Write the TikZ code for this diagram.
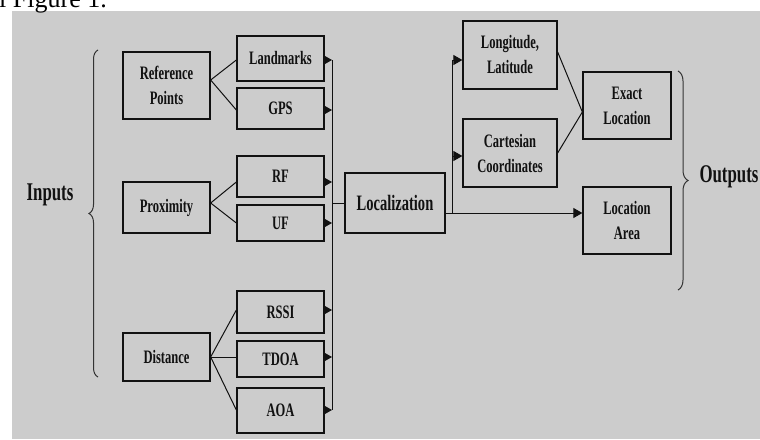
\documentclass[tikz,border=0pt]{standalone}
\usepackage{fontspec}
\usetikzlibrary{arrows.meta,decorations.pathreplacing}
\newfontfamily\bfnt{Liberation Serif Bold}[FakeStretch=0.66]
\newfontfamily\capfnt{Liberation Serif}
\definecolor{bg}{HTML}{CCCCCC}
\definecolor{ink}{HTML}{111111}
\tikzset{
  box/.style={draw=ink, line width=1.3pt, inner sep=0pt, align=center, text=ink,
    font=\bfnt\fontsize{19}{25}\selectfont},
  conn/.style={draw=ink, line width=1pt},
  arr/.style={conn, -{Triangle[length=9pt,width=10pt]}},
  brc/.style={draw=black!80, line width=1pt, decorate},
  big/.style={text=ink, inner sep=0pt, font=\bfnt\fontsize{25.5}{26}\selectfont}
}
\begin{document}
\begin{tikzpicture}[x=1pt,y=-1pt]
\useasboundingbox (0,0) rectangle (760,439);
\clip (0,0) rectangle (760,439);
\fill[white] (0,0) rectangle (760,439);
\fill[bg] (12,11) rectangle (760,439);
\node[anchor=base west, inner sep=0pt, font=\capfnt\fontsize{26}{26}\selectfont] (cap) at (-1,8) {l Figure 1.};

% left column
\node[box, minimum width=87pt, minimum height=67pt] (refp) at (166.5,85.5) {Reference\\Points};
\node[box, minimum width=87pt, minimum height=51pt] (prox) at (166.5,207.5) {Proximity};
\node[box, minimum width=87pt, minimum height=48pt] (dist) at (166.5,357) {Distance};
% second column
\node[box, minimum width=87pt, minimum height=45pt] (lm) at (280.5,58.5) {Landmarks};
\node[box, minimum width=87pt, minimum height=41pt] (gps) at (280.5,108.5) {GPS};
\node[box, minimum width=87pt, minimum height=41pt] (rf) at (280.5,176.5) {RF};
\node[box, minimum width=87pt, minimum height=36pt] (uf) at (280.5,223) {UF};
\node[box, minimum width=87pt, minimum height=42pt] (rssi) at (280.5,312) {RSSI};
\node[box, minimum width=87pt, minimum height=36pt] (tdoa) at (280.5,359) {TDOA};
\node[box, minimum width=87pt, minimum height=45pt] (aoa) at (280.5,410.5) {AOA};
% centre and right
\node[box, minimum width=100pt, minimum height=60pt, font=\bfnt\fontsize{22}{25}\selectfont] (loc) at (395,203) {Localization};
\node[box, minimum width=94pt, minimum height=68pt] (lon) at (510,55) {Longitude,\\Latitude};
\node[box, minimum width=94pt, minimum height=68pt] (cart) at (510,153) {Cartesian\\Coordinates};
\node[box, minimum width=88pt, minimum height=67pt] (exact) at (627,105.5) {Exact\\Location};
\node[box, minimum width=88pt, minimum height=67pt] (area) at (627,220.5) {Location\\Area};

\node[big] (inputs) at (50,195) {Inputs};
\node[big] (outputs) at (729,177) {Outputs};

% bus coordinates
\coordinate (b1) at (332,60);
\coordinate (b2) at (332,110);
\coordinate (b3) at (332,182);
\coordinate (b4) at (332,223);
\coordinate (b5) at (332,310);
\coordinate (b6) at (332,357);
\coordinate (b7) at (332,410);
\coordinate (bl) at (332,203);
\coordinate (r1) at (452,60);
\coordinate (r2) at (452,156);
\coordinate (r3) at (452,213);

% fan-out lines
\coordinate (jr) at ([yshift=5.5pt]refp.east);
\coordinate (jp) at ([yshift=4.5pt]prox.east);
\draw[conn] (lm.west |- b1) -- (jr) -- (gps.west |- b2);
\draw[conn] (rf.west |- b3) -- (jp) -- (uf.west |- b4);
\draw[conn] (rssi.west |- b5) -- (dist.east) -- (aoa.west |- b7);
\draw[conn] (dist.east) -- (tdoa.west |- b6);

% arrows into bus
\draw[arr] (lm.east |- b1) -- (b1);
\draw[arr] (gps.east |- b2) -- (b2);
\draw[arr] (rf.east |- b3) -- (b3);
\draw[arr] (uf.east |- b4) -- (b4);
\draw[arr] (rssi.east |- b5) -- (b5);
\draw[arr] (tdoa.east |- b6) -- (b6);
\draw[arr] (aoa.east |- b7) -- (b7);
\draw[conn] (b1) -- (b7);
\draw[conn] (bl) -- (loc.west);

% right side
\draw[conn] (r3) -- (r1);
\draw[arr] (r1) -- (lon.west |- r1);
\draw[arr] (r2) -- (cart.west |- r2);
\draw[arr] (loc.east |- r3) -- (area.west |- r3);
\coordinate (ej) at ([yshift=-6.5pt]exact.west);
\draw[conn] ([yshift=3pt]lon.east) -- (ej) -- (cart.east);

% braces
\draw[brc, decoration={brace, amplitude=9pt}] (98,377) -- (98,50);
\draw[brc, decoration={brace, amplitude=10pt}] (678,71) -- (678,290);
\end{tikzpicture}
\end{document}
